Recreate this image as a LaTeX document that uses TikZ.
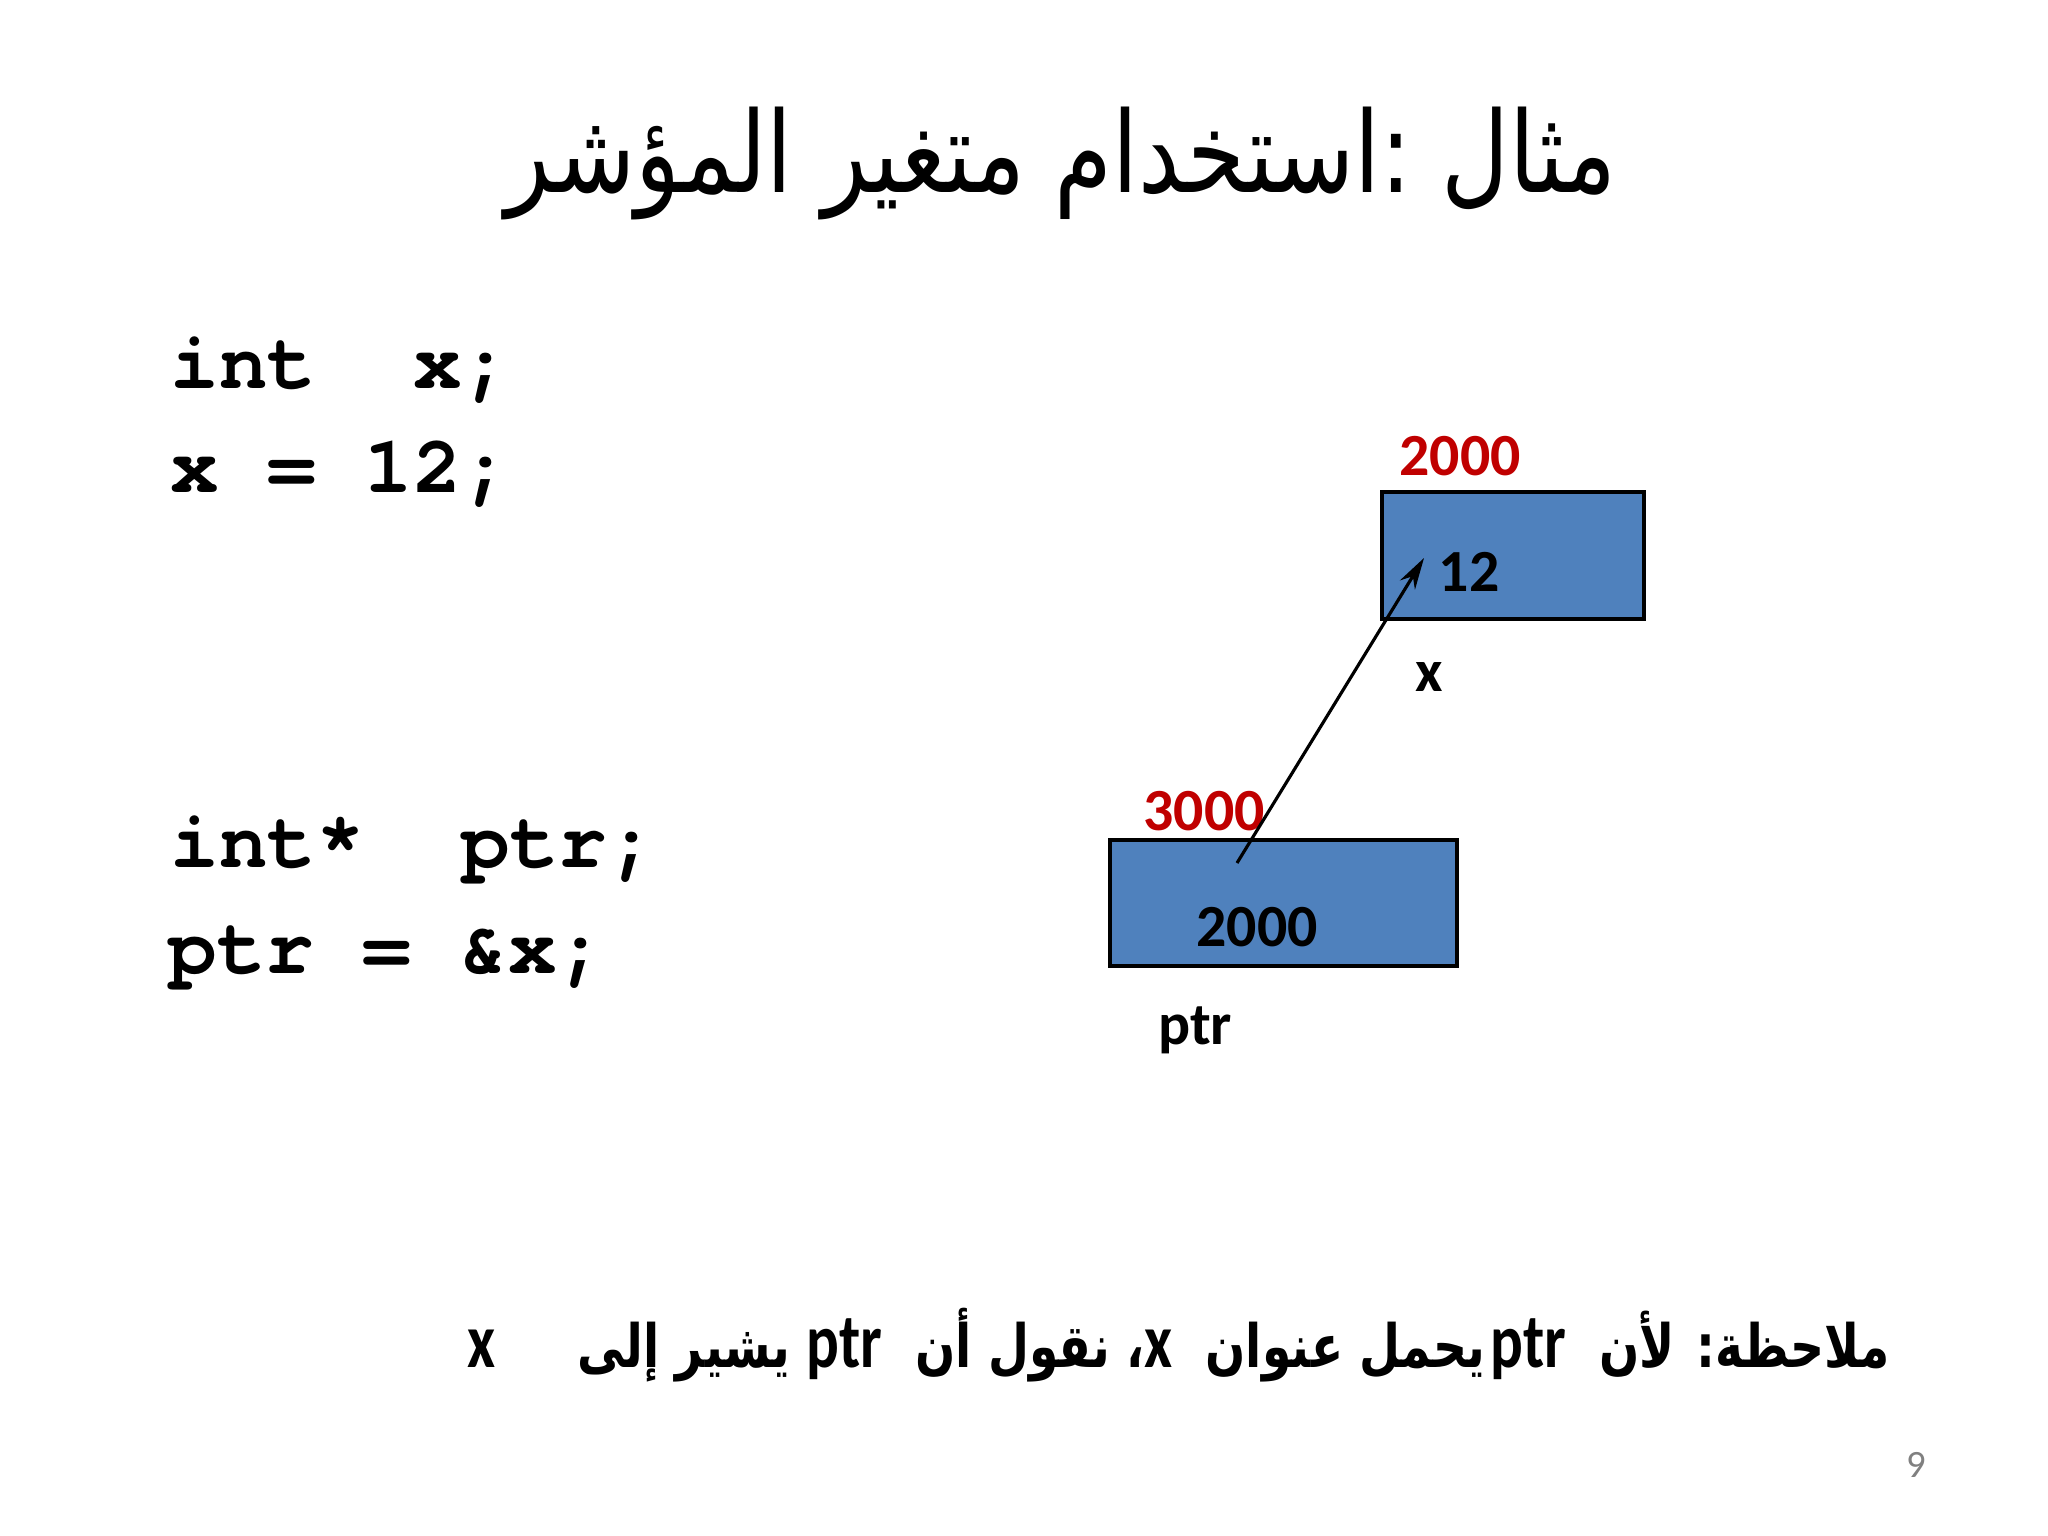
\documentclass[tikz,border=0pt]{standalone}
\usepackage{fontspec}
\usetikzlibrary{arrows.meta}
\setmainfont{Carlito}
\newfontfamily\arabicfont[Script=Arabic]{DejaVu Sans}
\newfontfamily\codefont{TeX Gyre Cursor}
\TeXXeTstate=1
\definecolor{boxblue}{RGB}{79,129,189}
\definecolor{addrred}{RGB}{192,0,0}
\newcommand{\lat}[1]{{\rmfamily\bfseries\fontsize{22}{26}\selectfont #1}}
\tikzset{
  membox/.style={draw=black, line width=1.2pt, fill=boxblue},
  codeline/.style={anchor=base west, inner sep=0pt, font=\codefont\bfseries\fontsize{23}{27}\selectfont},
  addr/.style={text=addrred, inner sep=0pt, font=\bfseries\fontsize{17}{20}\selectfont},
  val/.style={inner sep=0pt, font=\bfseries\fontsize{17}{20}\selectfont},
  ptrarrow/.style={line width=0.9pt, -{Stealth[length=9pt,width=5pt]}}
}
\begin{document}
\begin{tikzpicture}[x=0.01cm,y=-0.01cm]
\useasboundingbox (0,0) rectangle (2048,1536);
% title
\node[inner sep=0pt] (title) at (1061,163) {\scalebox{0.83}[1]{\arabicfont\fontsize{32}{38}\selectfont\beginR مثال :استخدام متغير المؤشر\endR}};
% code
\node[codeline] (c1) at (170,388) {int\ \ x;};
\node[codeline] (c2) at (170,492) {x = 12;};
\node[codeline] (c3) at (170,867) {int*\ \ ptr;};
\node[codeline] (c4) at (168,973) {ptr = \&x;};
% boxes
\path[membox] (1382,492) rectangle (1644,619);
\path[membox] (1110,840) rectangle (1457,966);
\node[addr] (a1) at (1460,456) {2000};
\node[val] (v1) at (1469,572) {12};
\node[val] (l1) at (1429,677) {x};
\node[addr] (a2) at (1204,811) {3000};
\node[val] (v2) at (1257,927) {2000};
\node[val] (l2) at (1195,1030) {ptr};
\coordinate (ps) at (1237,863);
\coordinate (pe) at (1424,558);
\draw[ptrarrow] (ps) -- (pe);
% note
\node[anchor=east, inner sep=0pt] (note) at (1890,1345) {\scalebox{0.79}[1]{\arabicfont\bfseries\fontsize{17}{21}\selectfont\beginR ملاحظة: لأن \ \lat{ptr}\kern2pt يحمل عنوان \ \lat{x}، نقول أن \ \lat{ptr} يشير إلى \ \ \ \ \lat{x}\endR}};
% page number
\node[text=gray, inner sep=0pt, font=\fontsize{11}{13}\selectfont] (pg) at (1916,1465) {9};
\end{tikzpicture}
\end{document}
